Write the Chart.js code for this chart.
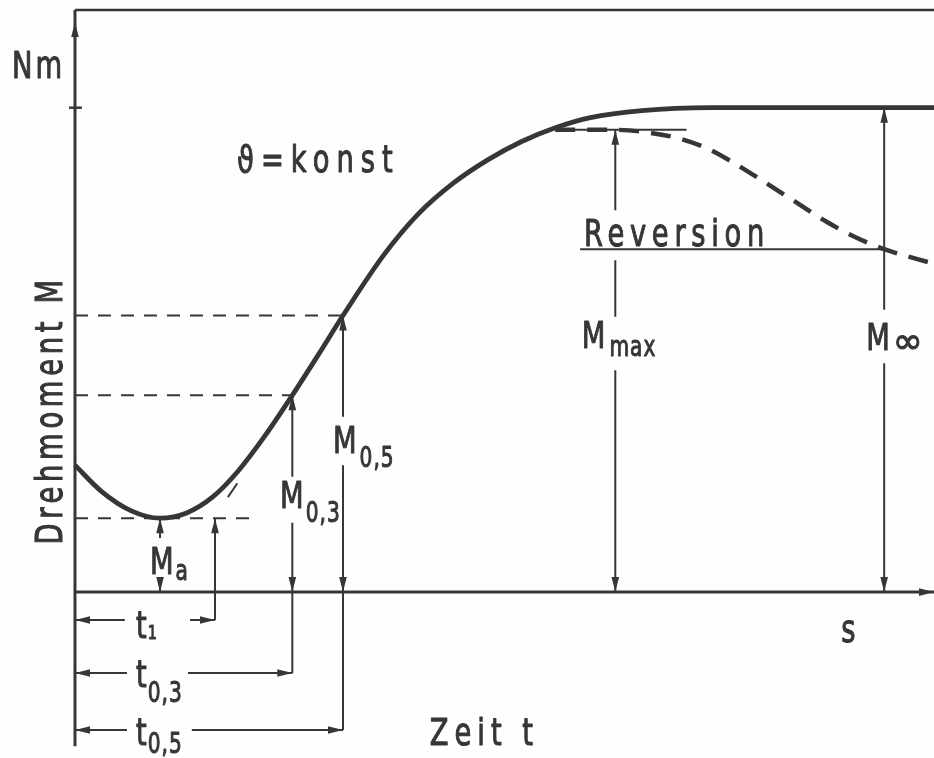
<!DOCTYPE html>
<html>
<head>
<meta charset="utf-8">
<script src="https://cdn.jsdelivr.net/npm/chart.js@4/dist/chart.umd.min.js"></script>
<style>
  html, body { margin: 0; padding: 0; background: #fff; }
  canvas { display: block; }
</style>
</head>
<body>
<canvas id="cure" width="934" height="758"></canvas>
<script>
// torque curve M(t) at constant temperature
const CURVE_T = [0, 3, 6.5, 9.9, 13, 16, 19, 22, 25.3, 28.3, 31.2, 36, 40, 44, 48, 52, 56, 60, 66, 74, 85, 100];
const CURVE_M = [21.8, 17.4, 14.0, 12.7, 13.6, 16.3, 20.8, 26.6, 33.8, 40.7, 47.5, 58.0, 65.0, 70.2, 74.2, 77.4, 79.8, 81.5, 82.7, 83.2, 83.2, 83.2];

// reversion branch (dashed)
const REV_T = [55.9, 62.9, 66.9, 70.4, 73.6, 76.6, 80.1, 84.1, 87.5, 90.8, 94.2, 100];
const REV_M = [79.4, 79.4, 78.9, 77.9, 76.2, 73.8, 70.6, 66.8, 63.6, 61.0, 58.9, 56.4];

// characteristic torques
const M_A = 12.7, M_03 = 33.8, M_05 = 47.5, M_MAX = 79.4, M_INF = 58.9, M_TOP = 83.2;
// characteristic times
const T_A = 9.9, T_1 = 16.3, T_03 = 25.3, T_05 = 31.2, T_MAX = 62.9, T_INF = 94.2;
// levels of the time brackets below the axis
const B_1 = -4.8, B_03 = -13.9, B_05 = -23.7;

const INK = '#363636';
const FONT = '"DejaVu Sans", sans-serif';

const pts = (arr) => arr.map(([x, y]) => ({ x, y }));
const GAP = (x) => ({ x, y: null });

function line(data, width, dash) {
  return {
    data, showLine: true, borderColor: INK, backgroundColor: INK,
    borderWidth: width, borderDash: dash || [], pointRadius: 0, tension: 0
  };
}

const datasets = [
  // main curve
  Object.assign(line(CURVE_T.map((t, i) => ({ x: t, y: CURVE_M[i] })), 4.8), { cubicInterpolationMode: 'monotone' }),
  // reversion
  Object.assign(line(REV_T.map((t, i) => ({ x: t, y: REV_M[i] })), 4.5, [20, 12]), { cubicInterpolationMode: 'monotone' }),
  // axes and frame
  line(pts([[0, 0], [100, 0]]), 3),
  line(pts([[0, -26.5], [0, 100]]), 3),
  line(pts([[0, 100], [100, 100]]), 2.5),
  line(pts([[-0.7, M_TOP], [0.8, M_TOP]]), 2.5),
  // dashed torque levels
  line(pts([[0, M_05], [T_05, M_05]]), 2, [13, 10]),
  line(pts([[0, M_03], [T_03, M_03]]), 2, [13, 10]),
  line(pts([[0, M_A], [21.2, M_A]]), 2, [13, 10]),
  line(pts([[17.8, 16.3], [18.9, 18.7]]), 2),
  // torque dimension lines
  line([{ x: T_A, y: M_A }, { x: T_A, y: 9.3 }, GAP(T_A), { x: T_A, y: 2.4 }, { x: T_A, y: 0 }], 2),
  line(pts([[T_1, M_A], [T_1, B_1]]), 2),
  line([{ x: T_03, y: M_03 }, { x: T_03, y: 19.8 }, GAP(T_03), { x: T_03, y: 11.9 }, { x: T_03, y: B_03 }], 2),
  line([{ x: T_05, y: M_05 }, { x: T_05, y: 30.1 }, GAP(T_05), { x: T_05, y: 21.8 }, { x: T_05, y: B_05 }], 2),
  line([{ x: T_MAX, y: M_MAX }, { x: T_MAX, y: 65.6 }, GAP(T_MAX), { x: T_MAX, y: 57.0 }, { x: T_MAX, y: 47.3 },
        GAP(T_MAX), { x: T_MAX, y: 38.1 }, { x: T_MAX, y: 0 }], 2),
  line([{ x: T_INF, y: M_TOP }, { x: T_INF, y: 48.5 }, GAP(T_INF), { x: T_INF, y: 39.3 }, { x: T_INF, y: 0 }], 2),
  line(pts([[57.4, M_MAX], [71.2, M_MAX]]), 2),
  line(pts([[58.8, M_INF], [T_INF, M_INF]]), 2),
  // time brackets
  line([{ x: 0, y: B_1 }, { x: 5.8, y: B_1 }, GAP(9), { x: 13.4, y: B_1 }, { x: T_1, y: B_1 }], 2),
  line([{ x: 0, y: B_03 }, { x: 6.05, y: B_03 }, GAP(9), { x: 13.15, y: B_03 }, { x: T_03, y: B_03 }], 2),
  line([{ x: 0, y: B_05 }, { x: 6.05, y: B_05 }, GAP(9), { x: 13.6, y: B_05 }, { x: T_05, y: B_05 }], 2)
];

const ARROWS = [
  [0, 97.9, 'up'], [100, 0, 'right'],
  [T_A, M_A, 'up'], [T_A, 0, 'down'],
  [T_1, M_A, 'up'],
  [T_03, M_03, 'up'], [T_03, 0, 'down'],
  [T_05, M_05, 'up'], [T_05, 0, 'down'],
  [T_MAX, M_MAX, 'up'], [T_MAX, 0, 'down'],
  [T_INF, M_TOP, 'up'], [T_INF, 0, 'down'],
  [0, B_1, 'left'], [T_1, B_1, 'right'],
  [0, B_03, 'left'], [T_03, B_03, 'right'],
  [0, B_05, 'left'], [T_05, B_05, 'right']
];

const LABELS = [
  { text: 'Nm', t: -7.33, m: 88.3, spacing: 3 },
  { text: 'ϑ=konst', t: 18.86, m: 72.2, spacing: 7 },
  { text: 'Reversion', t: 59.25, m: 59.45, spacing: 5.7 },
  { text: 'Zeit t', t: 41.3, m: -26.3, spacing: 6 },
  { text: 's', t: 89.2, m: -8.6, spacing: 0 },
  { text: 'M', sub: 'max', t: 59.0, m: 41.9, drop: 8, gap: 4 },
  { text: 'M', sub: '∞', t: 92.1, m: 41.6, drop: 3, gap: 3, subSize: 36, subScale: 1 },
  { text: 'M', sub: 'a', t: 8.73, m: 3.1, drop: 6, gap: 2 },
  { text: 'M', sub: '0,3', t: 23.87, m: 14.4, drop: 14, gap: 2 },
  { text: 'M', sub: '0,5', t: 30.03, m: 23.9, drop: 14, gap: 3 },
  { text: 't', sub: '1', t: 7.1, m: -7.9, drop: 1, gap: 1, subSize: 20 },
  { text: 't', sub: '0,3', t: 7.1, m: -16.3, drop: 15, gap: 1 },
  { text: 't', sub: '0,5', t: 7.1, m: -26.3, drop: 8, gap: 1 }
];

// text is squeezed horizontally and stroked a little to get the
// narrow, heavy lettering of a drawing stencil
function drawText(ctx, str, x, y, size, spacing, scaleX) {
  ctx.save();
  ctx.translate(x, y);
  ctx.scale(scaleX, 1);
  ctx.font = size + 'px ' + FONT;
  ctx.letterSpacing = (spacing / scaleX) + 'px';
  ctx.textAlign = 'left';
  ctx.textBaseline = 'alphabetic';
  ctx.lineWidth = 1.1;
  ctx.lineJoin = 'round';
  ctx.fillText(str, 0, 0);
  ctx.strokeText(str, 0, 0);
  const w = ctx.measureText(str).width * scaleX;
  ctx.restore();
  return w;
}

function arrowHead(ctx, x, y, dir) {
  const a = { up: -Math.PI / 2, down: Math.PI / 2, left: Math.PI, right: 0 }[dir];
  ctx.save();
  ctx.translate(x, y);
  ctx.rotate(a);
  ctx.beginPath();
  ctx.moveTo(0, 0);
  ctx.lineTo(-15, -3.8);
  ctx.lineTo(-15, 3.8);
  ctx.closePath();
  ctx.fill();
  ctx.restore();
}

const annotate = {
  id: 'annotate',
  beforeDraw(chart) {
    const ctx = chart.ctx;
    ctx.save();
    ctx.fillStyle = '#fefefe';
    ctx.fillRect(0, 0, chart.width, chart.height);
    ctx.restore();
  },
  afterDatasetsDraw(chart) {
    const { ctx, scales: { x, y } } = chart;
    ctx.save();
    ctx.fillStyle = INK;
    ctx.strokeStyle = INK;
    ARROWS.forEach(([t, m, dir]) => arrowHead(ctx, x.getPixelForValue(t), y.getPixelForValue(m), dir));

    LABELS.forEach(l => {
      const px = x.getPixelForValue(l.t);
      const py = y.getPixelForValue(l.m);
      const w = drawText(ctx, l.text, px, py, 38, l.spacing || 0, 0.72);
      if (l.sub) {
        drawText(ctx, l.sub, px + w + l.gap, py + l.drop, l.subSize || 28, 1, l.subScale || 0.72);
      }
    });

    // y axis title, reading upwards
    ctx.save();
    ctx.translate(x.getPixelForValue(-1.51), y.getPixelForValue(31.3));
    ctx.rotate(-Math.PI / 2);
    ctx.scale(0.72, 1);
    ctx.font = '38px ' + FONT;
    ctx.letterSpacing = (4.7 / 0.72) + 'px';
    ctx.textAlign = 'center';
    ctx.textBaseline = 'alphabetic';
    ctx.lineWidth = 1.1;
    ctx.fillText('Drehmoment M', 0, 0);
    ctx.strokeText('Drehmoment M', 0, 0);
    ctx.restore();
    ctx.restore();
  }
};

new Chart(document.getElementById('cure'), {
  type: 'scatter',
  data: { datasets },
  options: {
    responsive: false,
    animation: false,
    layout: { padding: 0 },
    plugins: { legend: { display: false }, tooltip: { enabled: false } },
    scales: {
      x: { type: 'linear', min: -8.73, max: 100, display: false },
      y: { type: 'linear', min: -28.5, max: 101.7, display: false }
    }
  },
  plugins: [annotate]
});
</script>
</body>
</html>
